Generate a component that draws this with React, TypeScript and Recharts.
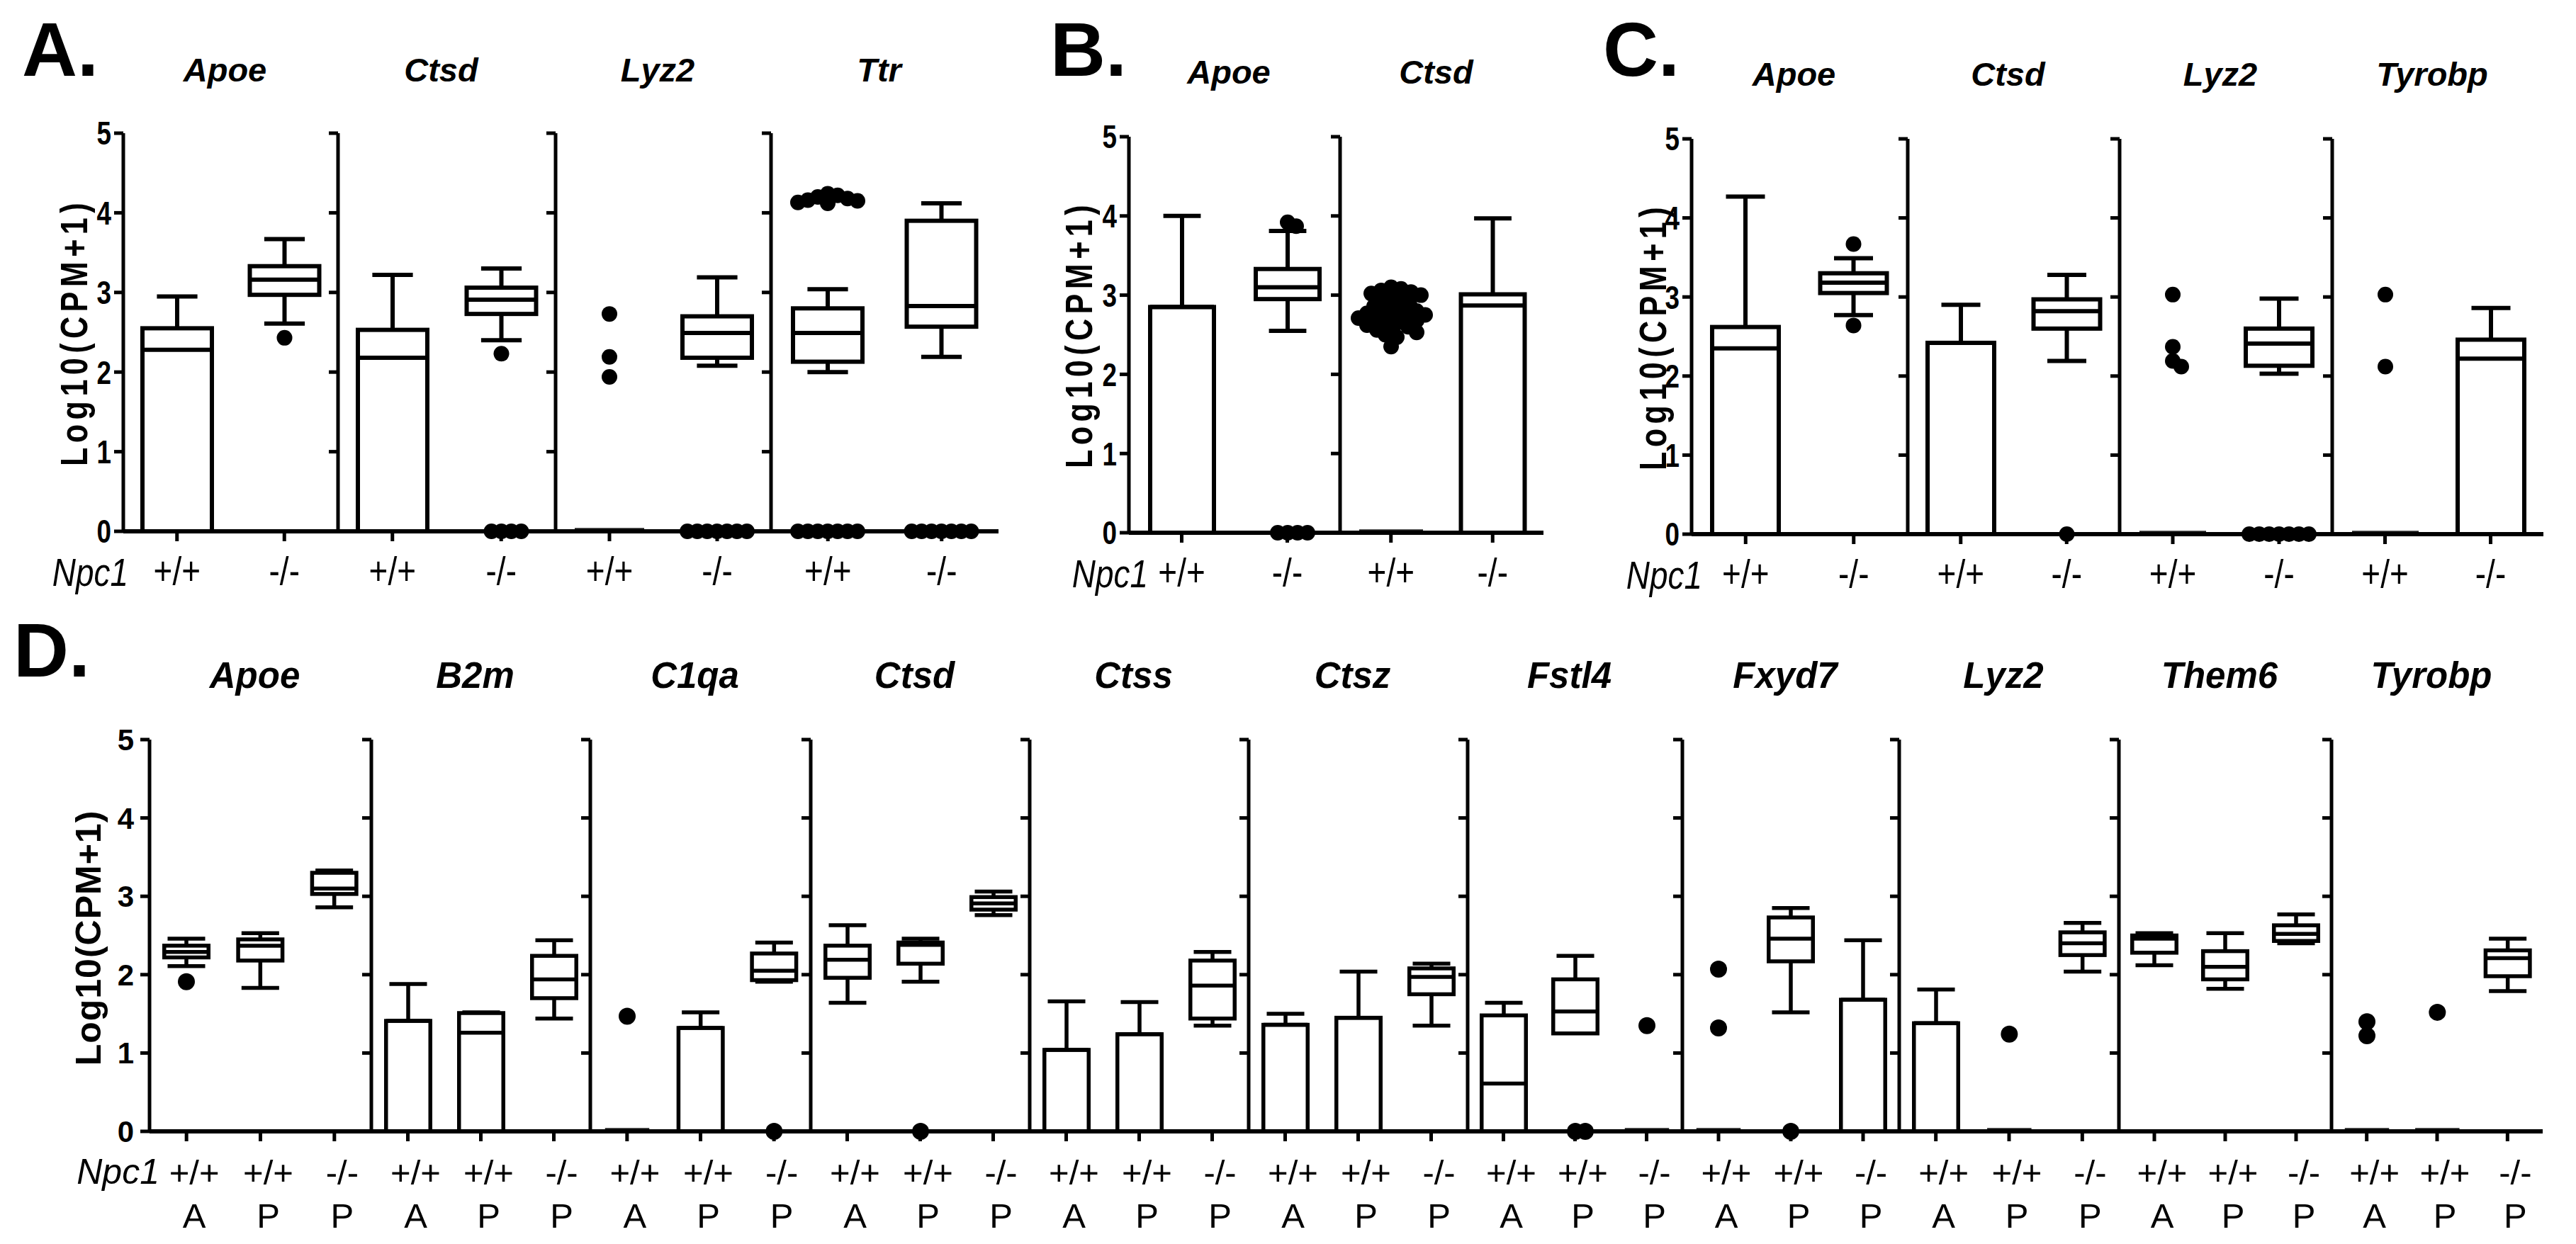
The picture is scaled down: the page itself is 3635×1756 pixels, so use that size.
import React from "react";
import { ComposedChart, Bar, XAxis, YAxis } from "recharts";

const FONT = "'Liberation Sans', Arial, Helvetica, sans-serif";

// each box: [min, q1, median, q3, max]; outliers listed separately

// A. two genotypes
const panelAGenes = ["Apoe", "Ctsd", "Lyz2", "Ttr"];
const panelAGroups = ["+/+", "-/-"];
const panelABoxes = [
  [[0, 0, 2.28, 2.55, 2.95], [2.61, 2.97, 3.16, 3.33, 3.67]],
  [[0, 0, 2.18, 2.53, 3.22], [2.4, 2.73, 2.91, 3.06, 3.3]],
  [[0, 0, 0, 0, 0], [2.08, 2.18, 2.49, 2.7, 3.19]],
  [[2.0, 2.13, 2.49, 2.8, 3.04], [2.19, 2.57, 2.83, 3.9, 4.12]],
];
const panelAOutliers = [
  [[], [2.43]],
  [[], [2.23, 0, 0, 0, 0]],
  [[2.73, 2.19, 1.94], [0, 0, 0, 0, 0, 0, 0]],
  [[4.12, 4.15, 4.18, 4.22, 4.24, 4.16, 4.13, 4.2, 0, 0, 0, 0, 0, 0, 0], [0, 0, 0, 0, 0, 0, 0]],
];

// B.
const panelBGenes = ["Apoe", "Ctsd"];
const panelBGroups = ["+/+", "-/-"];
const panelBBoxes = [
  [[0, 0, 2.85, 2.85, 4.0], [2.55, 2.95, 3.1, 3.33, 3.81]],
  [[0, 0, 0, 0, 0], [0, 0, 2.87, 3.01, 3.97]],
];
const panelBOutliers = [
  [[], [3.92, 3.87, 0, 0, 0, 0]],
  [
    [
      3.1, 3.08, 3.06, 3.04, 3.02, 3.0, 2.97, 2.94, 2.91, 2.88, 2.86, 2.84, 2.82, 2.8, 2.78, 2.77,
      2.75, 2.74, 2.72, 2.71, 2.69, 2.68, 2.66, 2.64, 2.62, 2.6, 2.58, 2.56, 2.53, 2.5, 2.47, 2.35,
    ],
    [],
  ],
];

// C.
const panelCGenes = ["Apoe", "Ctsd", "Lyz2", "Tyrobp"];
const panelCGroups = ["+/+", "-/-"];
const panelCBoxes = [
  [[0, 0, 2.35, 2.62, 4.27], [2.77, 3.05, 3.18, 3.3, 3.49]],
  [[0, 0, 2.42, 2.42, 2.9], [2.19, 2.6, 2.82, 2.97, 3.28]],
  [[0, 0, 0, 0, 0], [2.03, 2.13, 2.41, 2.6, 2.98]],
  [[0, 0, 0, 0, 0], [0, 0, 2.22, 2.46, 2.86]],
];
const panelCOutliers = [
  [[], [3.67, 2.64]],
  [[], [0]],
  [[3.03, 2.37, 2.19, 2.12], [0, 0, 0, 0, 0, 0, 0]],
  [[3.03, 2.12], []],
];

// D. genotype x region (A / P)
const panelDGenes = ["Apoe", "B2m", "C1qa", "Ctsd", "Ctss", "Ctsz", "Fstl4", "Fxyd7", "Lyz2", "Them6", "Tyrobp"];
const panelDGenotypes = ["+/+", "+/+", "-/-"];
const panelDRegions = ["A", "P", "P"];
const panelDBoxes = [
  [[2.11, 2.22, 2.29, 2.37, 2.46], [1.83, 2.18, 2.37, 2.45, 2.53], [2.86, 3.03, 3.1, 3.3, 3.33]],
  [[0, 0, 1.41, 1.41, 1.88], [0, 0, 1.26, 1.51, 1.52], [1.44, 1.7, 1.94, 2.24, 2.44]],
  [[0, 0, 0, 0, 0], [0, 0, 1.32, 1.32, 1.52], [1.91, 1.93, 2.05, 2.27, 2.41]],
  [[1.64, 1.96, 2.19, 2.37, 2.63], [1.91, 2.14, 2.38, 2.41, 2.46], [2.76, 2.83, 2.91, 2.99, 3.06]],
  [[0, 0, 1.04, 1.04, 1.66], [0, 0, 1.24, 1.24, 1.65], [1.35, 1.44, 1.86, 2.18, 2.29]],
  [[0, 0, 1.36, 1.36, 1.5], [0, 0, 1.45, 1.45, 2.04], [1.35, 1.75, 1.97, 2.08, 2.14]],
  [[0, 0, 0.61, 1.48, 1.64], [1.25, 1.25, 1.53, 1.94, 2.24], [0, 0, 0, 0, 0]],
  [[0, 0, 0, 0, 0], [1.52, 2.17, 2.46, 2.73, 2.85], [0, 0, 1.68, 1.68, 2.44]],
  [[0, 0, 1.38, 1.38, 1.81], [0, 0, 0, 0, 0], [2.04, 2.25, 2.4, 2.54, 2.66]],
  [[2.12, 2.28, 2.46, 2.5, 2.53], [1.82, 1.94, 2.1, 2.3, 2.53], [2.4, 2.43, 2.52, 2.63, 2.77]],
  [[0, 0, 0, 0, 0], [0, 0, 0, 0, 0], [1.79, 1.98, 2.21, 2.31, 2.46]],
];
const panelDOutliers = [
  [[1.91], [], []],
  [[], [], []],
  [[1.47], [], [0]],
  [[], [0], []],
  [[], [], []],
  [[], [], []],
  [[], [0, 0], [1.35]],
  [[2.07, 1.32], [0], []],
  [[], [1.24], []],
  [[], [], []],
  [[1.22, 1.4], [1.52], []],
];

const yTicks = [0, 1, 2, 3, 4, 5];

type Row = { key: string; stats: number[]; out: number[] };
type Look = { sw: number; cap: number; r: number; gap: number };
type TextLook = { size: number; sx: number; weight: string; dx: number };

const rangeOf = (d: Row): [number, number] => {
  const all = [...d.stats, ...d.out];
  return [Math.min(...all), Math.max(...all)];
};

// simple beeswarm so tied outliers sit side by side
function swarm(ys: number[], cx: number, gap: number): number[] {
  const placed: { x: number; y: number }[] = [];
  const xs: number[] = new Array(ys.length).fill(cx);
  const order = ys.map((_, i) => i).sort((a, b) => ys[a] - ys[b]);
  for (const i of order) {
    let dx = 0;
    for (let k = 0; k < 400; k++) {
      const cand = (k % 2 === 1 ? 1 : -1) * Math.ceil(k / 2) * 2;
      if (placed.every((p) => Math.hypot(p.x - (cx + cand), p.y - ys[i]) >= gap)) {
        dx = cand;
        break;
      }
    }
    xs[i] = cx + dx;
    placed.push({ x: cx + dx, y: ys[i] });
  }
  return xs;
}

function BoxShape(props: any) {
  const { x, y, width, height, look } = props;
  const row: Row = props.payload ?? props;
  const [lo, hi] = rangeOf(row);
  const top = Math.min(y, y + height);
  const bot = Math.max(y, y + height);
  const py = (v: number) => (hi === lo ? bot : bot - ((v - lo) / (hi - lo)) * (bot - top));
  const [mn, q1, md, q3, mx] = row.stats;
  const cx = x + width / 2;
  const half = width / 2 - look.sw / 2;
  const capHalf = (width * look.cap) / 2;
  const dotYs = row.out.map(py);
  const dotXs = swarm(dotYs, cx, look.gap);
  const ln = { stroke: "#000", strokeWidth: look.sw };
  const flat = q3 - q1 < 0.001;
  return (
    <g>
      {mx > q3 && <line x1={cx} x2={cx} y1={py(q3)} y2={py(mx)} {...ln} />}
      {mx > q3 && <line x1={cx - capHalf} x2={cx + capHalf} y1={py(mx)} y2={py(mx)} {...ln} />}
      {mn < q1 && <line x1={cx} x2={cx} y1={py(q1)} y2={py(mn)} {...ln} />}
      {mn < q1 && <line x1={cx - capHalf} x2={cx + capHalf} y1={py(mn)} y2={py(mn)} {...ln} />}
      {flat ? (
        <line x1={cx - half} x2={cx + half} y1={py(q1) - 3} y2={py(q1) - 3} stroke="#222" strokeWidth={look.sw * 0.6} />
      ) : (
        <rect x={cx - half} y={py(q3)} width={half * 2} height={py(q1) - py(q3)} fill="#fff" {...ln} />
      )}
      {!flat && <line x1={cx - half} x2={cx + half} y1={py(md)} y2={py(md)} {...ln} />}
      {dotYs.map((yy, i) => (
        <circle key={i} cx={dotXs[i]} cy={yy} r={look.r} fill="#000" />
      ))}
    </g>
  );
}

const makeYTick = (t: TextLook) => (p: any) => (
  <text
    transform={`translate(${p.x - t.dx},${p.y + t.size * 0.358}) scale(${t.sx},1)`}
    textAnchor="end" fontSize={t.size} fontWeight={t.weight} fontFamily={FONT} fill="#000"
  >
    {p.payload.value}
  </text>
);
const noTick = () => <g />;

const makeXTick = (t: TextLook) => (p: any) => {
  const [geno, region] = String(p.payload.value).split("|");
  return (
    <g>
      <text transform={`translate(${p.x + t.dx},${p.y + 59}) scale(${t.sx},1)`} textAnchor="middle"
        fontSize={t.size} fontFamily={FONT} fill="#000">
        {geno}
      </text>
      {region && (
        <text transform={`translate(${p.x + t.dx},${p.y + 120}) scale(${t.sx},1)`} textAnchor="middle"
          fontSize={t.size} fontFamily={FONT} fill="#000">
          {region}
        </text>
      )}
    </g>
  );
};

const MT = 24;

type PanelProps = {
  axes: number[];
  end: number;
  plotTop: number;
  plotBottom: number;
  keys: string[];
  boxes: number[][][];
  outliers: number[][][];
  barSize: number;
  look: Look;
  xH: number;
  xText: TextLook;
  yText: TextLook;
};

function Panel({ axes, end, plotTop, plotBottom, keys, boxes, outliers, barSize, look, xH, xText, yText }: PanelProps) {
  const xTick = makeXTick(xText);
  const yTick = makeYTick(yText);
  return (
    <>
      {axes.map((ax, i) => {
        const first = i === 0;
        const yW = first ? 70 : 20;
        const w = (i + 1 < axes.length ? axes[i + 1] : end) - ax;
        const rows: Row[] = keys.map((key, j) => ({ key, stats: boxes[i][j], out: outliers[i][j] }));
        return (
          <div key={i} style={{ position: "absolute", left: ax - yW, top: plotTop - MT }}>
            <ComposedChart
              width={yW + w}
              height={MT + (plotBottom - plotTop) + xH}
              data={rows}
              margin={{ top: MT, right: 0, bottom: 0, left: 0 }}
            >
              <XAxis
                dataKey="key"
                type="category"
                interval={0}
                height={xH}
                tickSize={14}
                axisLine={{ stroke: "#000", strokeWidth: 6 }}
                tickLine={{ stroke: "#000", strokeWidth: 5 }}
                tick={xTick}
              />
              <YAxis
                type="number"
                domain={[0, 5]}
                ticks={yTicks}
                interval={0}
                width={yW}
                tickSize={13}
                tickMargin={2}
                axisLine={{ stroke: "#000", strokeWidth: 5 }}
                tickLine={{ stroke: "#000", strokeWidth: 5 }}
                tick={first ? yTick : noTick}
              />
              <Bar
                dataKey={rangeOf}
                barSize={barSize}
                isAnimationActive={false}
                shape={(p: any) => <BoxShape {...p} look={look} />}
              />
            </ComposedChart>
          </div>
        );
      })}
    </>
  );
}

const lookTop: Look = { sw: 6, cap: 0.55, r: 11, gap: 13 };
const lookD: Look = { sw: 5.5, cap: 0.78, r: 12, gap: 14 };
const xTextTop: TextLook = { size: 56, sx: 0.82, weight: "normal", dx: 0 };
const xTextD: TextLook = { size: 49, sx: 1, weight: "normal", dx: 11 };
const yTextTop: TextLook = { size: 46, sx: 0.8, weight: "bold", dx: 2 };
const yTextD: TextLook = { size: 42, sx: 1, weight: "bold", dx: 7 };

const axesA = [174, 477, 784, 1088];
const axesB = [1593, 1891];
const axesC = [2387, 2692, 2991, 3291];
const axesD = [211, 524, 833, 1144, 1453, 1762, 2071, 2374, 2680, 2990, 3290];

function Titles({ axes, end, genes, y, size }: { axes: number[]; end: number; genes: string[]; y: number; size: number }) {
  return (
    <>
      {genes.map((g, i) => {
        const nx = i + 1 < axes.length ? axes[i + 1] : end;
        return (
          <text key={g + i} x={(axes[i] + nx) / 2 - 8} y={y} textAnchor="middle" fontSize={size}
            fontWeight="bold" fontStyle="italic" fontFamily={FONT}>
            {g}
          </text>
        );
      })}
    </>
  );
}

function YTitle({ x, y, size, sx, spacing }: { x: number; y: number; size: number; sx: number; spacing: number }) {
  return (
    <text transform={`translate(${x},${y}) rotate(-90) scale(${sx},1)`} textAnchor="middle" dominantBaseline="central"
      fontSize={size} fontWeight="bold" letterSpacing={spacing} fontFamily={FONT}>
      Log10(CPM+1)
    </text>
  );
}

function Npc1({ right, y, size, sx }: { right: number; y: number; size: number; sx: number }) {
  return (
    <text transform={`translate(${right},${y}) scale(${sx},1)`} textAnchor="end" fontSize={size}
      fontStyle="italic" fontFamily={FONT}>
      Npc1
    </text>
  );
}

export default function App() {
  const dKeys = panelDGenotypes.map((g, i) => `${g}|${panelDRegions[i]}`);
  return (
    <div style={{ position: "relative", width: 3635, height: 1756, background: "#fff", fontFamily: FONT }}>
      <style>{"body{margin:0;background:#fff}"}</style>
      <svg width={3635} height={1756} style={{ position: "absolute", left: 0, top: 0 }}>
        <text x={31} y={107} fontSize={108} fontWeight="bold" fontFamily={FONT}>A.</text>
        <text x={1482} y={107} fontSize={108} fontWeight="bold" fontFamily={FONT}>B.</text>
        <text x={2262} y={107} fontSize={108} fontWeight="bold" fontFamily={FONT}>C.</text>
        <text x={19} y={955} fontSize={108} fontWeight="bold" fontFamily={FONT}>D.</text>
        <Titles axes={axesA} end={1409} genes={panelAGenes} y={115} size={47} />
        <Titles axes={axesB} end={2178} genes={panelBGenes} y={118} size={47} />
        <Titles axes={axesC} end={3589} genes={panelCGenes} y={121} size={47} />
        <Titles axes={axesD} end={3588} genes={panelDGenes} y={971} size={51} />
        <YTitle x={104} y={469} size={54} sx={0.8} spacing={8} />
        <YTitle x={1522} y={472} size={54} sx={0.8} spacing={8} />
        <YTitle x={2332} y={475} size={54} sx={0.8} spacing={8} />
        <YTitle x={125} y={1324} size={50} sx={1} spacing={1} />
        <Npc1 right={181} y={827} size={56} sx={0.82} />
        <Npc1 right={1620} y={829} size={56} sx={0.82} />
        <Npc1 right={2402} y={831} size={56} sx={0.82} />
        <Npc1 right={225} y={1671} size={50} sx={1} />
      </svg>
      <Panel axes={axesA} end={1409} plotTop={188} plotBottom={750} keys={panelAGroups}
        boxes={panelABoxes} outliers={panelAOutliers} barSize={104} look={lookTop} xH={90}
        xText={xTextTop} yText={yTextTop} />
      <Panel axes={axesB} end={2178} plotTop={193} plotBottom={752} keys={panelBGroups}
        boxes={panelBBoxes} outliers={panelBOutliers} barSize={96} look={lookTop} xH={90}
        xText={xTextTop} yText={yTextTop} />
      <Panel axes={axesC} end={3589} plotTop={196} plotBottom={754} keys={panelCGroups}
        boxes={panelCBoxes} outliers={panelCOutliers} barSize={100} look={lookTop} xH={90}
        xText={xTextTop} yText={yTextTop} />
      <Panel axes={axesD} end={3588} plotTop={1044} plotBottom={1597} keys={dKeys}
        boxes={panelDBoxes} outliers={panelDOutliers} barSize={68} look={lookD} xH={150}
        xText={xTextD} yText={yTextD} />
    </div>
  );
}
